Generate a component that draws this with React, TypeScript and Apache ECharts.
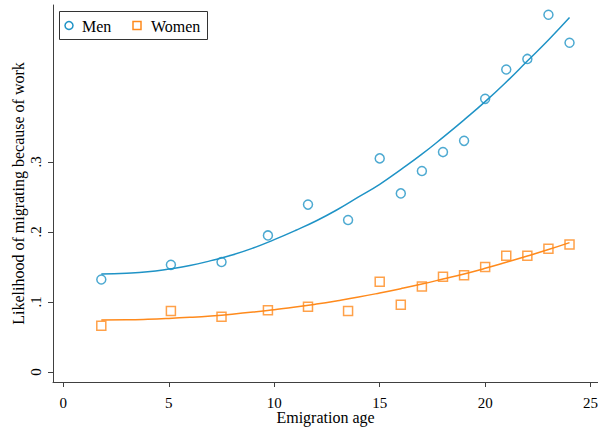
import React, { useEffect, useRef } from "react";
import * as echarts from "echarts";

// Scatter points (emigration age, likelihood)
const ages = [1.8, 5.1, 7.5, 9.7, 11.6, 13.5, 15, 16, 17, 18, 19, 20, 21, 22, 23, 24];
const menValues = [0.132, 0.153, 0.157, 0.195, 0.239, 0.217, 0.305, 0.255, 0.287, 0.314, 0.330, 0.390, 0.432, 0.447, 0.510, 0.470];
const womenValues = [0.066, 0.087, 0.079, 0.088, 0.093, 0.087, 0.129, 0.096, 0.122, 0.136, 0.138, 0.150, 0.166, 0.166, 0.176, 0.182];

// Fitted curves
const fitAges = [1.8, 3, 4, 5, 6, 7, 8, 9, 10, 11, 12, 13, 14, 15, 16, 17, 18, 19, 20, 21, 22, 23, 24];
const menFit = [0.140, 0.141, 0.143, 0.147, 0.152, 0.159, 0.167, 0.177, 0.189, 0.202, 0.216, 0.232, 0.250, 0.268, 0.289, 0.311, 0.335, 0.360, 0.386, 0.414, 0.444, 0.474, 0.506];
const womenFit = [0.0743, 0.0745, 0.0752, 0.0764, 0.078, 0.080, 0.0825, 0.0855, 0.089, 0.0927, 0.097, 0.1018, 0.107, 0.1128, 0.119, 0.1256, 0.1327, 0.140, 0.148, 0.1566, 0.1655, 0.1748, 0.1847];

const xTicks = [0, 5, 10, 15, 20, 25];
const yTicks = [0, 0.1, 0.2, 0.3];
const yTickLabels = ["0", ".1", ".2", ".3"];

const seriesNames = ["Men", "Women"];
const xTitle = "Emigration age";
const yTitle = "Likelihood of migrating because of work";

const BLUE = "#1f93c6";
const ORANGE = "#ff8a1c";
const AXIS = "#404040";
const FONT = "'Liberation Serif', 'Times New Roman', serif";

export default function App() {
  const ref = useRef<HTMLDivElement>(null);
  useEffect(() => {
    if (!ref.current) return;
    const chart = echarts.init(ref.current, null, { renderer: "svg" });
    const zip = (xs: number[], ys: number[]) => xs.map((x, i) => [x, ys[i]]);
    chart.setOption({
      animation: false,
      backgroundColor: "#ffffff",
      grid: { left: 53, right: 0, top: 5, bottom: 48, containLabel: false, outerBoundsMode: "none" },
      xAxis: {
        type: "value",
        min: -0.49,
        max: 25.35,
        name: xTitle,
        nameLocation: "middle",
        nameGap: 27,
        nameMoveOverlap: false,
        nameTextStyle: { fontFamily: FONT, fontSize: 16, color: "#000" },
        axisLine: { show: true, onZero: false, lineStyle: { color: AXIS, width: 1 } },
        axisTick: { show: true, length: 5, customValues: xTicks, lineStyle: { color: AXIS } },
        axisLabel: {
          customValues: xTicks,
          margin: 13,
          fontFamily: FONT,
          fontSize: 15,
          color: "#000",
        },
        splitLine: { show: false },
      },
      yAxis: {
        type: "value",
        min: -0.0143,
        max: 0.524,
        name: yTitle,
        nameLocation: "middle",
        nameGap: 27,
        nameMoveOverlap: false,
        nameRotate: 90,
        nameTextStyle: { fontFamily: FONT, fontSize: 16, color: "#000" },
        axisLine: { show: true, onZero: false, lineStyle: { color: AXIS, width: 1 } },
        axisTick: { show: true, length: 5, customValues: yTicks, lineStyle: { color: AXIS } },
        axisLabel: {
          customValues: yTicks,
          rotate: 90,
          margin: 10,
          fontFamily: FONT,
          fontSize: 15,
          color: "#000",
          formatter: (v: number) => {
            const i = yTicks.findIndex((t) => Math.abs(t - v) < 1e-9);
            return i >= 0 ? yTickLabels[i] : "";
          },
        },
        splitLine: { show: false },
      },
      series: [
        {
          name: seriesNames[0] + " fit",
          type: "line",
          data: zip(fitAges, menFit),
          showSymbol: false,
          smooth: true,
          lineStyle: { color: BLUE, width: 1.5 },
          z: 2,
        },
        {
          name: seriesNames[1] + " fit",
          type: "line",
          data: zip(fitAges, womenFit),
          showSymbol: false,
          smooth: true,
          lineStyle: { color: ORANGE, width: 1.5 },
          z: 2,
        },
        {
          name: seriesNames[0],
          type: "scatter",
          data: zip(ages, menValues),
          symbol: "circle",
          symbolSize: 9,
          itemStyle: { color: "rgba(0,0,0,0)", borderColor: BLUE, borderWidth: 1.5 },
          z: 3,
        },
        {
          name: seriesNames[1],
          type: "scatter",
          data: zip(ages, womenValues),
          symbol: "rect",
          symbolSize: 9,
          itemStyle: { color: "rgba(0,0,0,0)", borderColor: ORANGE, borderWidth: 1.5 },
          z: 3,
        },
      ],
      graphic: [
        {
          type: "rect",
          shape: { x: 59.5, y: 11.5, width: 148, height: 28 },
          style: { fill: "#fff", stroke: "#333", lineWidth: 1 },
          z: 10,
        },
        {
          type: "circle",
          shape: { cx: 69, cy: 25.5, r: 4 },
          style: { fill: "none", stroke: BLUE, lineWidth: 1.5 },
          z: 11,
        },
        {
          type: "text",
          x: 82,
          y: 26,
          style: { text: seriesNames[0], font: `16px ${FONT}`, fill: "#000", textVerticalAlign: "middle" },
          z: 11,
        },
        {
          type: "rect",
          shape: { x: 133, y: 21.5, width: 8, height: 8 },
          style: { fill: "none", stroke: ORANGE, lineWidth: 1.5 },
          z: 11,
        },
        {
          type: "text",
          x: 151,
          y: 26,
          style: { text: seriesNames[1], font: `16px ${FONT}`, fill: "#000", textVerticalAlign: "middle" },
          z: 11,
        },
      ],
    });
    return () => chart.dispose();
  }, []);
  return <div ref={ref} style={{ width: 598, height: 430, position: "fixed", left: 0, top: 0 }} />;
}
